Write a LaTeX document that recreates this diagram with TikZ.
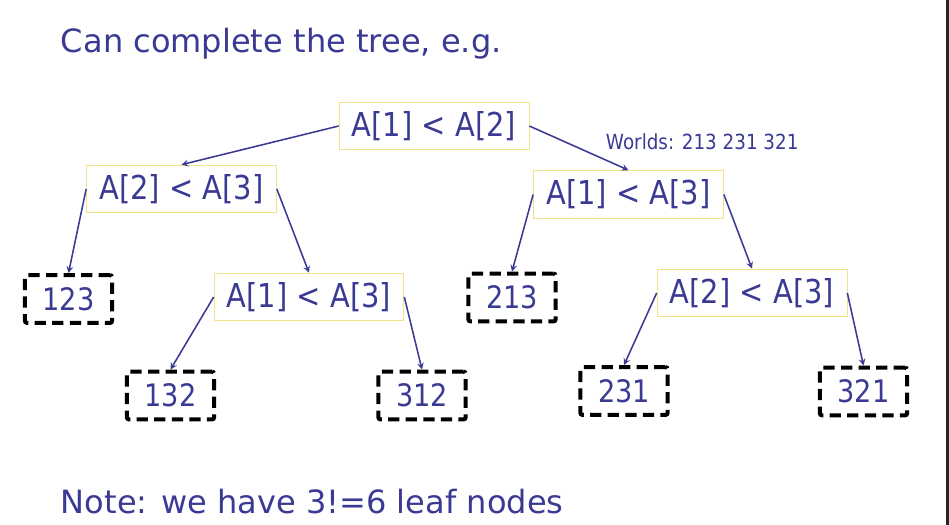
\documentclass[tikz,border=0pt]{standalone}
\usepackage{fontspec}
\setmainfont{DejaVu Sans}
\newfontfamily\boxfont[FakeStretch=0.88]{DejaVu Sans}
\definecolor{navy}{RGB}{58,58,148}
\definecolor{gold}{RGB}{242,226,140}

\begin{document}
\begin{tikzpicture}[>=stealth,x=0.025cm,y=-0.025cm,
    test/.style={draw=gold,line width=0.6pt,text=navy,font=\boxfont\fontsize{23.4}{27}\selectfont,
      minimum width=135pt,minimum height=34pt,inner sep=0pt},
    leaf/.style={draw=black,line width=2.9pt,dash pattern=on 8pt off 4.5pt,rounded corners=1.5pt,
      text=navy,font=\boxfont\fontsize{22}{26}\selectfont,minimum width=62pt,minimum height=34pt,inner sep=0pt},
    edge/.style={->,draw=navy,line width=1.1pt}]
        \useasboundingbox (0,0) rectangle (949,525);
        \fill[black!85] (946,0) rectangle (949,525);
        \node[anchor=base west,text=navy,font=\fontsize{22.8}{26}\selectfont] (title) at (56,53) {Can complete the tree, e.g.};
        % tree
        \node[test] (root) at (434,126) {A[1] < A[2]};
        \node[test] (l) at (181.5,189) {A[2] < A[3]};
        \node[test] (r) at (628.5,194.5) {A[1] < A[3]};
        \node[leaf] (p123) at (68.5,299) {123};
        \node[test] (lr) at (309,297) {A[1] < A[3]};
        \node[leaf] (p213) at (512,297.5) {213};
        \node[test] (rr) at (752,293) {A[2] < A[3]};
        \node[leaf] (p132) at (170.5,395.5) {132};
        \node[leaf] (p312) at (422,395.5) {312};
        \node[leaf] (p231) at (624,391) {231};
        \node[leaf] (p321) at (863.5,391.5) {321};
        \node[anchor=west,text=navy,font=\boxfont\fontsize{14.8}{17}\selectfont] (worlds) at (601,142) {Worlds: 213 231 321};
        \draw[edge] (root.west) -- (l.north);
        \draw[edge] (root.east) -- (r.north);
        \draw[edge] (l.west) -- (p123.north);
        \draw[edge] (l.east) -- (lr.north);
        \draw[edge] (r.west) -- (p213.north);
        \draw[edge] (r.east) -- (rr.north);
        \draw[edge] (lr.west) -- (p132.north);
        \draw[edge] (lr.east) -- (p312.north);
        \draw[edge] (rr.west) -- (p231.north);
        \draw[edge] (rr.east) -- (p321.north);
        \node[anchor=base west,text=navy,font=\fontsize{22.8}{26}\selectfont] (note) at (56,513) {Note: we have 3!=6 leaf nodes};
    \end{tikzpicture}
\end{document}
